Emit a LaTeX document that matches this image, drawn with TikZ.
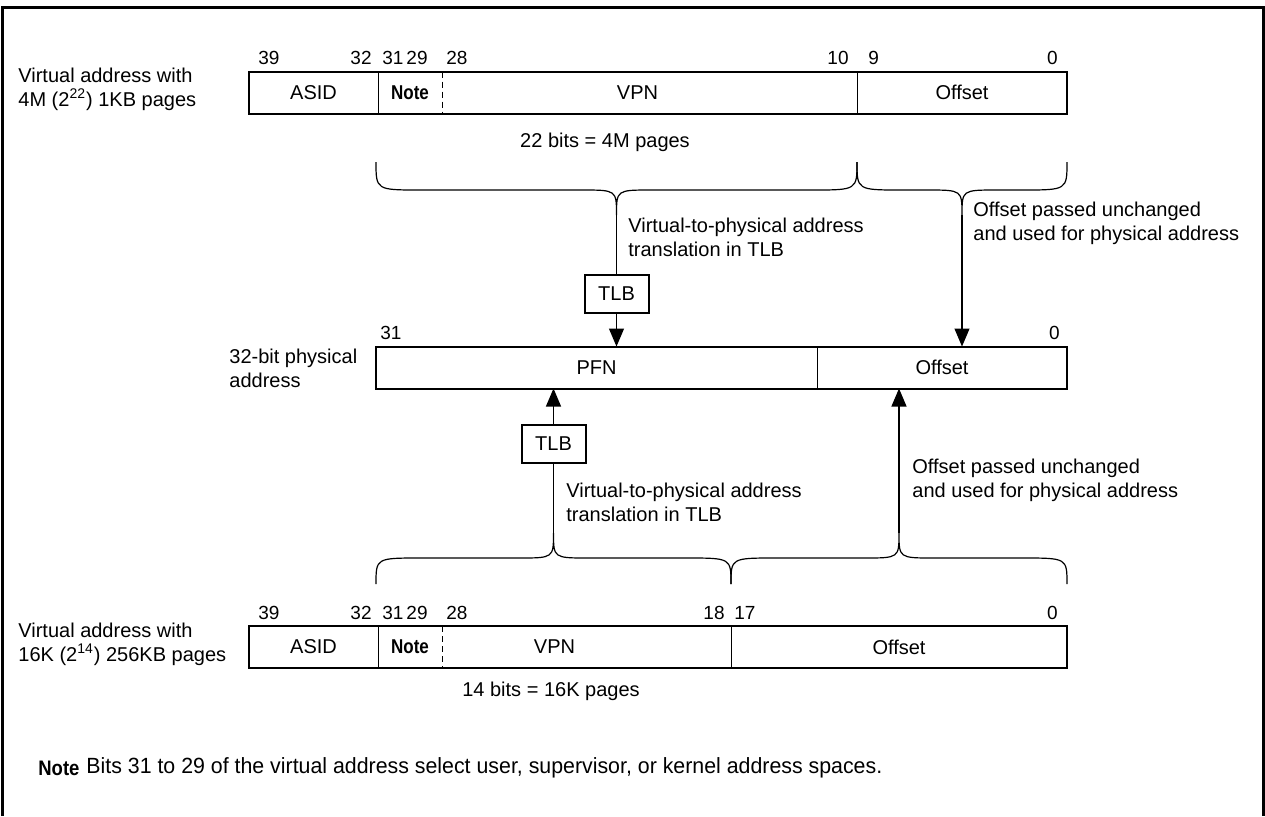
\documentclass[tikz,border=0pt]{standalone}
\usepackage{fontspec}
\setmainfont{Liberation Sans}
\usetikzlibrary{positioning, arrows.meta}

\begin{document}
\begin{tikzpicture}[
        x=0.5pt, y=-0.5pt,
        field/.style={inner sep=0pt, outer sep=0pt, minimum height=21pt, font=\fontsize{10}{12}\selectfont},
        bar/.style={line width=1pt},
        divider/.style={line width=0.5pt},
        bitno/.style={font=\fontsize{9.5}{11}\selectfont, inner sep=0pt},
        lbl/.style={font=\fontsize{10}{12}\selectfont, align=left, inner sep=0pt},
        tlb/.style={draw, line width=1pt, minimum width=32pt, minimum height=19pt, inner sep=0pt, font=\fontsize{10}{12}\selectfont},
        brace/.style={line width=0.6pt},
        arr/.style={line width=0.6pt, -{Triangle[length=9pt, width=7.5pt]}},
        notetag/.style={font=\fontsize{10.5}{12}\selectfont\bfseries, inner sep=0pt}
    ]

    \useasboundingbox (0,0) rectangle (1265,816);

    % Frame (open at the bottom)
    \draw[line width=1.5pt] (2,816) -- (2,7) -- (1263,7) -- (1263,816);

    % === VIRTUAL ADDRESS, 1KB PAGES ===
    \node[lbl, anchor=west] (vtop) at (18,89) {Virtual address with\\4M (2\textsuperscript{22}) 1KB pages};
    \node[field, minimum width=64.5pt, anchor=west] (asidA) at (249,92.5) {ASID};
    \node[field, minimum width=32pt, right=0pt of asidA] (noteA) {\scalebox{0.85}[1]{\bfseries Note}};
    \node[field, minimum width=207.5pt, right=0pt of noteA, label={[lbl, xshift=-6pt]center:VPN}] (vpnA) {};
    \node[field, minimum width=105pt, right=0pt of vpnA] (offA) {Offset};
    \draw[bar] (asidA.north west) rectangle (offA.south east);
    \draw[divider] (asidA.north east) -- (asidA.south east);
    \draw[divider, dash pattern=on 3pt off 2pt] (noteA.north east) -- (noteA.south east);
    \draw[divider] (vpnA.north east) -- (vpnA.south east);

    \foreach \t/\f/\a/\s/\dx in {39/asidA/north west/south west/4.5, 32/asidA/north east/south east/-3,
        31/noteA/north west/south west/2, 29/noteA/north east/south east/-7, 28/vpnA/north west/south west/2,
        10/vpnA/north east/south east/-4, 9/offA/north west/south west/5.5, 0/offA/north east/south east/-4.5}
        \node[bitno, anchor=\s] (topbit\t) at ([xshift=\dx pt, yshift=3pt]\f.\a) {\t};

    \node[lbl] (bitsA) at (605,142) {22 bits = 4M pages};

    % === 32-BIT PHYSICAL ADDRESS ===
    \node[lbl, anchor=west] (phys) at (229,368) {32-bit physical\\address};
    \node[field, minimum width=220.5pt, anchor=west] (pfnP) at (376,367.5) {PFN};
    \node[field, minimum width=125pt, right=0pt of pfnP] (offP) {Offset};
    \draw[bar] (pfnP.north west) rectangle (offP.south east);
    \draw[divider] (pfnP.north east) -- (pfnP.south east);
    \node[bitno, anchor=south west] (physbit31) at ([xshift=2pt, yshift=3pt]pfnP.north west) {31};
    \node[bitno, anchor=south east] (physbit0) at ([xshift=-3.5pt, yshift=3pt]offP.north east) {0};

    % === VIRTUAL ADDRESS, 256KB PAGES ===
    \node[lbl, anchor=west] (vbot) at (18,644) {Virtual address with\\16K (2\textsuperscript{14}) 256KB pages};
    \node[field, minimum width=64.5pt, anchor=west] (asidC) at (249,647) {ASID};
    \node[field, minimum width=32pt, right=0pt of asidC] (noteC) {\scalebox{0.85}[1]{\bfseries Note}};
    \node[field, minimum width=144.5pt, right=0pt of noteC, label={[lbl, xshift=-16pt]center:VPN}] (vpnC) {};
    \node[field, minimum width=168pt, right=0pt of vpnC] (offC) {Offset};
    \draw[bar] (asidC.north west) rectangle (offC.south east);
    \draw[divider] (asidC.north east) -- (asidC.south east);
    \draw[divider, dash pattern=on 3pt off 2pt] (noteC.north east) -- (noteC.south east);
    \draw[divider] (vpnC.north east) -- (vpnC.south east);

    \foreach \t/\f/\a/\s/\dx in {39/asidC/north west/south west/4.5, 32/asidC/north east/south east/-3,
        31/noteC/north west/south west/2, 29/noteC/north east/south east/-7, 28/vpnC/north west/south west/2,
        18/vpnC/north east/south east/-3, 17/offC/north west/south west/1.5, 0/offC/north east/south east/-4.5}
        \node[bitno, anchor=\s] (botbit\t) at ([xshift=\dx pt, yshift=3pt]\f.\a) {\t};

    \node[lbl] (bitsC) at (551,691) {14 bits = 16K pages};

    % Braces: name/left/right/end y/flat y/tip y
    \foreach \n/\xa/\xb/\ye/\yh/\yt in {A/376/857/162/190/215, B/857/1067/162/190/215,
        C/376/731/584/558/533, D/731/1067/584/558/533}
    {
        \pgfmathsetmacro\xm{(\xa+\xb)/2}
        \draw[brace] (\xa,\ye) .. controls (\xa,\yh) .. (\xa+45,\yh) -- (\xm-35,\yh)
            .. controls (\xm,\yh) .. (\xm,\yt) .. controls (\xm,\yh) .. (\xm+35,\yh)
            -- (\xb-45,\yh) .. controls (\xb,\yh) .. (\xb,\ye);
        \coordinate (tip\n) at (\xm,\yt);
    }

    % === TRANSLATION, 1KB PAGES ===
    \node[tlb] (tlbA) at (tipA |- 0,294) {TLB};
    \draw[brace] (tipA) -- (tlbA);
    \draw[arr] (tlbA) -- (tlbA |- pfnP.north);
    \node[lbl, anchor=west] (xlatA) at (628,237) {Virtual-to-physical address\\translation in TLB};
    \draw[arr] (tipB) -- (tipB |- offP.north);
    \node[lbl, anchor=west] (passB) at (973,223) {Offset passed unchanged\\and used for physical address};

    % === TRANSLATION, 256KB PAGES ===
    \node[tlb] (tlbC) at (tipC |- 0,444) {TLB};
    \draw[brace] (tipC) -- (tlbC);
    \draw[arr] (tlbC) -- (tlbC |- pfnP.south);
    \node[lbl, anchor=west] (xlatC) at (566,502) {Virtual-to-physical address\\translation in TLB};
    \draw[arr] (tipD) -- (tipD |- offP.south);
    \node[lbl, anchor=west] (passD) at (912,480) {Offset passed unchanged\\and used for physical address};

    % Footnote
    \node[notetag, anchor=west] (notetag) at (38,768) {\scalebox{0.88}[1]{Note}};
    \node[lbl, font=\fontsize{11}{13}\selectfont, anchor=west] (notetext) at (86,768) {\scalebox{0.97}[1]{Bits 31 to 29 of the virtual address select user, supervisor, or kernel address spaces.}};

\end{tikzpicture}
\end{document}
